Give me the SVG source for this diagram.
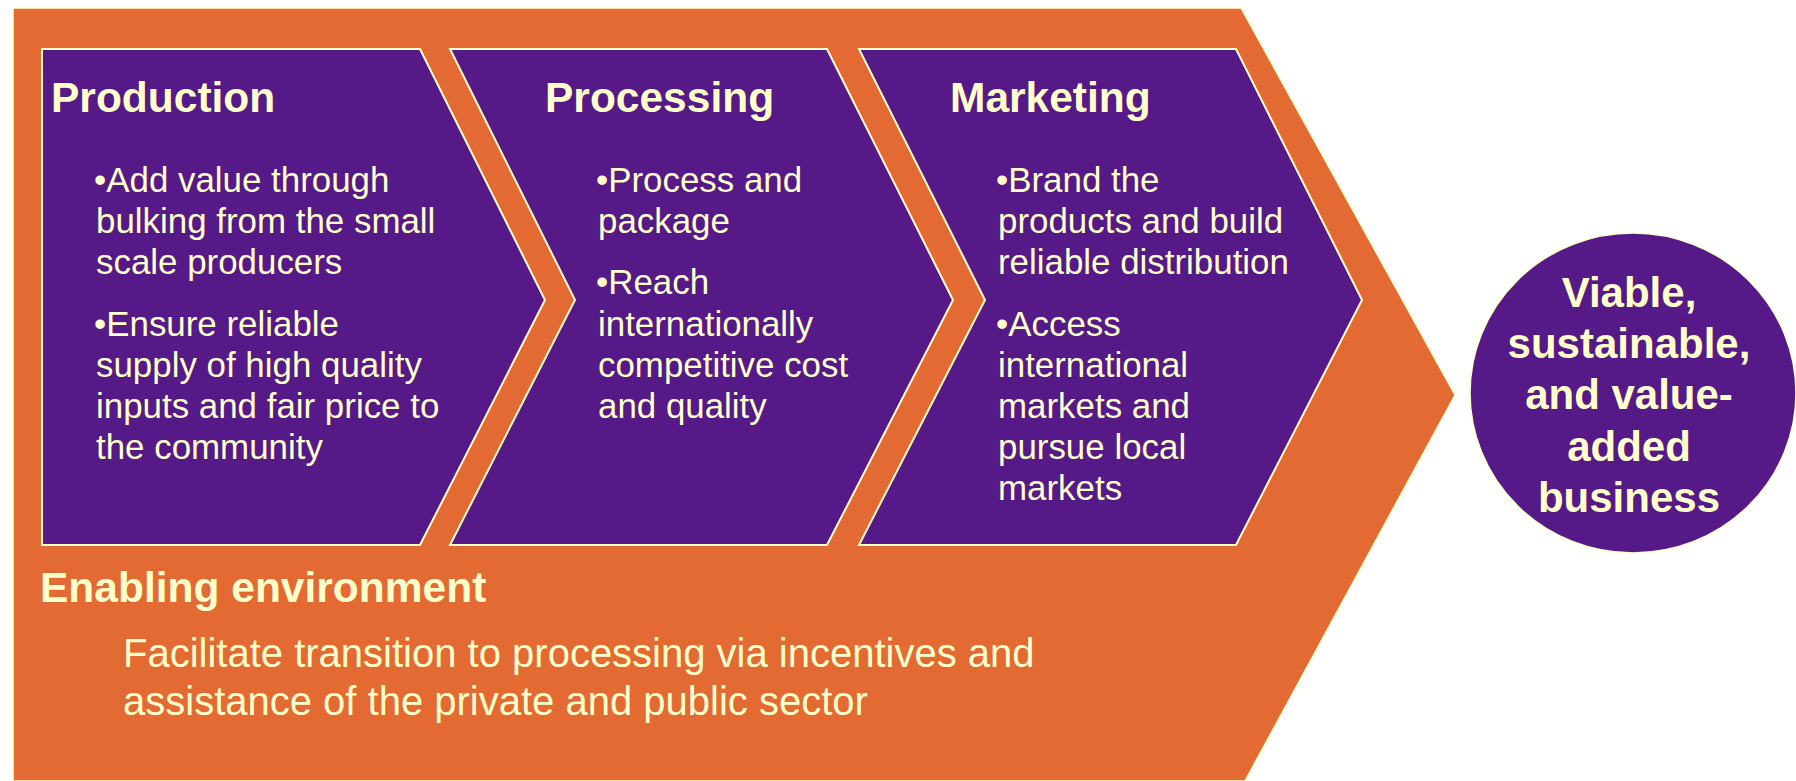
<svg xmlns="http://www.w3.org/2000/svg" width="1796" height="781" viewBox="0 0 1796 781">
<style>
.bg{fill:#E36A33;stroke:#FFFFCC;stroke-width:1.5}
.chev{fill:#551A87;stroke:#FFFFCC;stroke-width:2}
.title{font-family:"Liberation Sans",Arial,sans-serif;font-weight:bold;font-size:42.5px;fill:#FFFFCC}
.body{font-family:"Liberation Sans",Arial,sans-serif;font-size:34.9px;fill:#FFFFCC}
.env{font-family:"Liberation Sans",Arial,sans-serif;font-size:40px;fill:#FFFFCC}
.goal{font-family:"Liberation Sans",Arial,sans-serif;font-weight:bold;font-size:42px;fill:#FFFFCC;text-anchor:middle}
</style>
<rect width="1796" height="781" fill="#FFFFFF"/>
<g id="enabling-environment">
<polygon class="bg" points="13,8 1241,8 1455,395 1245,781 13,781"/>
<text class="title" x="40" y="602">Enabling environment</text>
<text class="env" x="123" y="667">Facilitate transition to processing via incentives and</text>
<text class="env" x="123" y="715">assistance of the private and public sector</text>
</g>
<g id="production">
<polygon class="chev" points="42,49 420,49 545,300 420,545 42,545"/>
<text class="title" x="51" y="112">Production</text>
<text class="body" x="94" y="192">•Add value through</text>
<text class="body" x="96" y="233">bulking from the small</text>
<text class="body" x="96" y="274">scale producers</text>
<text class="body" x="94" y="336">•Ensure reliable</text>
<text class="body" x="96" y="377">supply of high quality</text>
<text class="body" x="96" y="418">inputs and fair price to</text>
<text class="body" x="96" y="459">the community</text>
</g>
<g id="processing">
<polygon class="chev" points="450,49 827,49 953,300 827,545 450,545 575,300"/>
<text class="title" x="545" y="112">Processing</text>
<text class="body" x="596" y="192">•Process and</text>
<text class="body" x="598" y="233">package</text>
<text class="body" x="596" y="294">•Reach</text>
<text class="body" x="598" y="336">internationally</text>
<text class="body" x="598" y="377">competitive cost</text>
<text class="body" x="598" y="418">and quality</text>
</g>
<g id="marketing">
<polygon class="chev" points="859,49 1236,49 1362,300 1236,545 859,545 985,300"/>
<text class="title" x="950" y="112">Marketing</text>
<text class="body" x="996" y="192">•Brand the</text>
<text class="body" x="998" y="233">products and build</text>
<text class="body" x="998" y="274">reliable distribution</text>
<text class="body" x="996" y="336">•Access</text>
<text class="body" x="998" y="377">international</text>
<text class="body" x="998" y="418">markets and</text>
<text class="body" x="998" y="459">pursue local</text>
<text class="body" x="998" y="500">markets</text>
</g>
<g id="goal">
<ellipse cx="1633" cy="393" rx="163" ry="160" fill="#551A87" stroke="#FFFFCC" stroke-width="1.5"/>
<text class="goal" x="1629" y="307">Viable,</text>
<text class="goal" x="1629" y="358">sustainable,</text>
<text class="goal" x="1629" y="409">and value-</text>
<text class="goal" x="1629" y="461">added</text>
<text class="goal" x="1629" y="512">business</text>
</g>
<g id="connectors"></g>
</svg>
